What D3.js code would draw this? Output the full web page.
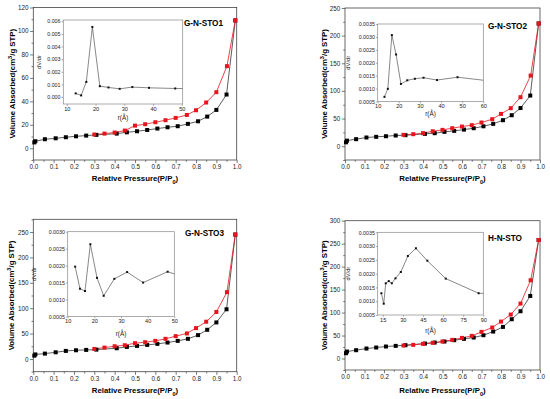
<!DOCTYPE html>
<html>
<head>
<meta charset="utf-8">
<script src="https://cdn.jsdelivr.net/npm/d3@7"></script>
<style>
  body { margin: 0; background: #fff; }
  svg { font-family: "Liberation Sans", Arial, sans-serif; }
  .frame { fill: none; stroke: #444; stroke-width: 0.8; }
  .inframe { fill: none; stroke: #888; stroke-width: 0.7; }
  .axis path { display: none; }
  .axis line { stroke: #444; stroke-width: 0.7; }
  .axis text { fill: #222; }
</style>
</head>
<body>
<div id="chart_area"></div>
<script>
// relative pressure (P/P0) of the adsorption and desorption branches
var pressureAds = [0.005, 0.01, 0.057, 0.11, 0.16, 0.21, 0.26, 0.31, 0.41, 0.46, 0.51, 0.56, 0.61, 0.66, 0.71, 0.76, 0.81, 0.855, 0.90, 0.95, 0.993];
var pressureDes = [0.30, 0.35, 0.40, 0.45, 0.50, 0.55, 0.60, 0.65, 0.70, 0.755, 0.80, 0.85, 0.90, 0.952, 0.993];

var sampleNames = ["G-N-STO1", "G-N-STO2", "G-N-STO3", "H-N-STO"];

// volume adsorbed, cm3/g STP
var ads1 = [5, 6, 7.7, 8.5, 9.4, 10.2, 10.8, 11.4, 12.5, 13.6, 14.5, 15.6, 16.8, 17.9, 18.8, 20.8, 23, 27, 32.7, 45.8, 109];
var des1 = [11.7, 12.5, 13.4, 15.1, 19.3, 20.5, 22.2, 23.9, 25.9, 28.4, 32.4, 39, 47.8, 70, 109];
var ads2 = [7, 10, 12.7, 15.7, 16.9, 18, 19.3, 19.9, 22.3, 23.5, 25.9, 27.7, 30, 32.5, 36, 40.4, 47, 56, 69, 91.6, 222];
var des2 = [20.5, 21.7, 23.5, 27, 29.5, 32.5, 35.5, 38, 42.8, 48.8, 58.4, 68.7, 88.6, 127.7, 222];
var ads3 = [6.6, 9, 10.6, 13.2, 15.9, 17.2, 17.9, 18.5, 21.2, 23.8, 25.8, 27.8, 29.8, 32.4, 35.7, 39.7, 47, 57.5, 72, 97.9, 245];
var des3 = [19.8, 22.5, 25.1, 27.1, 31.1, 33, 35.7, 39.7, 45, 50.3, 60.8, 73.4, 92.6, 131.6, 245];
var ads4 = [11.6, 15.2, 18.1, 21.7, 23.9, 26.1, 27.5, 29, 32.6, 34.8, 37, 39.9, 42.8, 45.7, 50.7, 58.7, 68.8, 85.5, 102.9, 136.2, 258];
var des4 = [28.3, 29.7, 31.9, 34.1, 37, 40.6, 44.9, 49.3, 58, 67.4, 80.4, 95.7, 119.6, 170.3, 258];

// pore size distribution insets: r (Å) and dV/dr
var poreR1 = [13.1, 15.0, 16.8, 18.9, 21.5, 24.5, 28.4, 32.8, 38.6, 47.7, 60];
var dvdr1 = [0.00029, 0.00013, 0.0012, 0.00555, 0.00086, 0.00076, 0.00065, 0.00079, 0.00073, 0.00068, 0.00066];
var poreR2 = [13.2, 14.8, 16.7, 18.7, 21.0, 24.0, 27.6, 31.7, 38.1, 47.8, 62.5];
var dvdr2 = [0.00068, 0.00099, 0.00307, 0.00232, 0.00118, 0.00132, 0.00138, 0.00142, 0.00133, 0.00144, 0.0013];
var poreR3 = [12.8, 14.6, 16.5, 18.5, 21, 23.5, 27.5, 32.3, 38.3, 47.5, 60];
var dvdr3 = [0.00197, 0.00132, 0.00125, 0.00263, 0.00164, 0.00111, 0.00161, 0.00181, 0.0015, 0.00182, 0.0015];
var poreR4 = [14, 15.75, 17.25, 19.5, 21.75, 24.5, 28.5, 33.75, 39.75, 48.25, 62, 86.5, 100];
var dvdr4 = [0.00129, 0.00091, 0.00165, 0.00173, 0.00165, 0.00183, 0.00206, 0.00264, 0.00292, 0.00247, 0.00182, 0.00129, 0.00126];

// tick values
var pressureTicks = d3.range(0, 1.0001, 0.1);
var yTicks1 = [0, 20, 40, 60, 80, 100, 120];
var yTicks2 = [0, 50, 100, 150, 200, 250];
var yTicks4 = [0, 50, 100, 150, 200, 250, 300];
var inTicksY1 = [0, 0.001, 0.002, 0.003, 0.004, 0.005, 0.006];
var inTicksY2 = [0.0005, 0.001, 0.0015, 0.002, 0.0025, 0.003, 0.0035];
var inTicksY3 = [0.0005, 0.001, 0.0015, 0.002, 0.0025, 0.003];
var inTicksX1 = [10, 20, 30, 40, 50];
var inTicksX2 = [10, 20, 30, 40, 50, 60];
var inTicksX4 = [15, 30, 45, 60, 75, 90];

var svg = d3.select("#chart_area").append("svg")
    .attr("width", 550).attr("height", 399);

var panels = [
    { name: sampleNames[0], ads: ads1, des: des1, yDom: [-10, 120], yTicks: yTicks1, yMinor: 10,
      box: [33.3, 236.7, 7.5, 160], ylabX: 15, xlabY: 181, title: [184, 26],
      inset: { r: poreR1, v: dvdr1, box: [63.3, 182.7, 20, 104], xDom: [8.8, 50.3], yDom: [-0.00055, 0.0061],
               xt: inTicksX1, yt: inTicksY1, fmt: ".3f", labX: 41, labY: 120 } },
    { name: sampleNames[1], ads: ads2, des: des2, yDom: [-25, 250], yTicks: yTicks2, yMinor: 25,
      box: [345, 540, 8, 160], ylabX: 327, xlabY: 181, title: [488, 29],
      inset: { r: poreR2, v: dvdr2, box: [377.7, 483.3, 24, 101.5], xDom: [10, 60], yDom: [0.0005, 0.0035],
               xt: inTicksX2, yt: inTicksY2, fmt: ".4f", labX: 350, labY: 116 } },
    { name: sampleNames[2], ads: ads3, des: des3, yDom: [-25, 275], yTicks: yTicks2, yMinor: 25,
      box: [33.3, 236.7, 219.3, 371.7], ylabX: 14, xlabY: 393, title: [185, 236],
      inset: { r: poreR3, v: dvdr3, box: [67.7, 174.3, 231.7, 316.5], xDom: [10, 50], yDom: [0.0005, 0.003],
               xt: inTicksX1, yt: inTicksY3, fmt: ".4f", labX: 36, labY: 336 } },
    { name: sampleNames[3], ads: ads4, des: des4, yDom: [-25, 300], yTicks: yTicks4, yMinor: 25,
      box: [345, 540, 220.7, 370], ylabX: 327, xlabY: 393, title: [488, 241],
      inset: { r: poreR4, v: dvdr4, box: [377.7, 483.3, 232.3, 315], xDom: [11.25, 90], yDom: [0.0005, 0.0035],
               xt: inTicksX4, yt: inTicksY2, fmt: ".4f", labX: 350, labY: 333 } }
];

function drawPanel(p, idx) {
    var g = svg.append("g");
    var x = d3.scaleLinear().domain([0, 1]).range([p.box[0], p.box[1]]);
    var y = d3.scaleLinear().domain(p.yDom).range([p.box[3], p.box[2]]);

    // minor ticks
    var xMinor = d3.range(0.05, 1, 0.1);
    var yMinor = d3.range(p.yDom[0] < 0 ? -p.yMinor : 0, p.yDom[1] + 0.001, p.yMinor).filter(function (v) {
        return p.yTicks.indexOf(v) < 0 && v >= p.yDom[0];
    });
    g.append("g").attr("class", "axis").attr("transform", "translate(0," + p.box[3] + ")")
        .call(d3.axisBottom(x).tickValues(xMinor).tickSize(1.8).tickFormat(""));
    g.append("g").attr("class", "axis").attr("transform", "translate(" + p.box[0] + ",0)")
        .call(d3.axisLeft(y).tickValues(yMinor).tickSize(1.8).tickFormat(""));

    var xa = g.append("g").attr("class", "axis").attr("transform", "translate(0," + p.box[3] + ")")
        .call(d3.axisBottom(x).tickValues(pressureTicks).tickSize(3.2).tickPadding(1.5).tickFormat(d3.format(".1f")));
    xa.selectAll("text").style("font-size", "6.3px");
    var ya = g.append("g").attr("class", "axis").attr("transform", "translate(" + p.box[0] + ",0)")
        .call(d3.axisLeft(y).tickValues(p.yTicks).tickSize(3.2).tickPadding(1.5));
    ya.selectAll("text").style("font-size", "6.3px");

    g.append("rect").attr("class", "frame")
        .attr("x", p.box[0]).attr("y", p.box[2])
        .attr("width", p.box[1] - p.box[0]).attr("height", p.box[3] - p.box[2]);

    // axis labels
    var xl = g.append("text").attr("x", (p.box[0] + p.box[1]) / 2).attr("y", p.xlabY)
        .attr("text-anchor", "middle").style("font-size", "7.8px").style("font-weight", "bold");
    xl.append("tspan").text("Relative Pressure(P/P");
    xl.append("tspan").attr("baseline-shift", "sub").style("font-size", "5.6px").text("0");
    xl.append("tspan").text(")");

    var yl = g.append("text")
        .attr("transform", "translate(" + p.ylabX + "," + ((p.box[2] + p.box[3]) / 2) + ") rotate(-90)")
        .attr("text-anchor", "middle").style("font-size", "7.8px").style("font-weight", "bold");
    yl.append("tspan").text("Volume Absorbed(cm");
    yl.append("tspan").attr("baseline-shift", "super").style("font-size", "5.6px").text("3");
    yl.append("tspan").text("/g STP)");

    g.append("text").attr("x", p.title[0]).attr("y", p.title[1])
        .style("font-size", "8.2px").style("font-weight", "bold").text(p.name);

    // isotherm branches
    var line = d3.line().x(function (d) { return x(d[0]); }).y(function (d) { return y(d[1]); });
    var adsPts = pressureAds.map(function (v, i) { return [v, p.ads[i]]; });
    var desPts = pressureDes.map(function (v, i) { return [v, p.des[i]]; });

    g.append("path").datum(adsPts).attr("d", line)
        .attr("fill", "none").attr("stroke", "#333").attr("stroke-width", 0.8);
    g.append("path").datum(desPts).attr("d", line)
        .attr("fill", "none").attr("stroke", "#e8141e").attr("stroke-width", 0.8);

    g.selectAll(".ads").data(adsPts).enter().append("rect")
        .attr("x", function (d) { return x(d[0]) - 2; })
        .attr("y", function (d) { return y(d[1]) - 2; })
        .attr("width", 4).attr("height", 4).attr("fill", "#000");
    g.selectAll(".des").data(desPts).enter().append("rect")
        .attr("x", function (d) { return x(d[0]) - 2; })
        .attr("y", function (d) { return y(d[1]) - 2; })
        .attr("width", 4).attr("height", 4).attr("fill", "#e8141e");

    drawInset(p.inset, idx);
}

function drawInset(s, idx) {
    var g = svg.append("g");
    var x = d3.scaleLinear().domain(s.xDom).range([s.box[0], s.box[1]]);
    var y = d3.scaleLinear().domain(s.yDom).range([s.box[3], s.box[2]]);

    var xa = g.append("g").attr("class", "axis").attr("transform", "translate(0," + s.box[3] + ")")
        .call(d3.axisBottom(x).tickValues(s.xt).tickSize(1.8).tickPadding(1));
    xa.selectAll("text").style("font-size", "5.6px");
    var ya = g.append("g").attr("class", "axis").attr("transform", "translate(" + s.box[0] + ",0)")
        .call(d3.axisLeft(y).tickValues(s.yt).tickSize(1.8).tickPadding(1).tickFormat(d3.format(s.fmt)));
    ya.selectAll("text").style("font-size", "5.3px");
    g.selectAll(".axis line").style("stroke", "#888");

    g.append("rect").attr("class", "inframe")
        .attr("x", s.box[0]).attr("y", s.box[2])
        .attr("width", s.box[1] - s.box[0]).attr("height", s.box[3] - s.box[2]);

    g.append("text")
        .attr("transform", "translate(" + s.labX + "," + ((s.box[2] + s.box[3]) / 2) + ") rotate(-90)")
        .attr("text-anchor", "middle").style("font-size", "5.8px").attr("fill", "#222").text("dV/dr");
    g.append("text").attr("x", (s.box[0] + s.box[1]) / 2).attr("y", s.labY)
        .attr("text-anchor", "middle").style("font-size", "6.3px").attr("fill", "#222").text("r(Å)");

    var clipId = "clip" + idx;
    svg.append("clipPath").attr("id", clipId).append("rect")
        .attr("x", s.box[0]).attr("y", s.box[2])
        .attr("width", s.box[1] - s.box[0]).attr("height", s.box[3] - s.box[2]);

    var pts = s.r.map(function (r, i) { return [r, s.v[i]]; });
    var line = d3.line().x(function (d) { return x(d[0]); }).y(function (d) { return y(d[1]); });
    var inner = g.append("g").attr("clip-path", "url(#" + clipId + ")");
    inner.append("path").datum(pts).attr("d", line)
        .attr("fill", "none").attr("stroke", "#555").attr("stroke-width", 0.7);
    inner.selectAll("rect").data(pts).enter().append("rect")
        .attr("x", function (d) { return x(d[0]) - 1; })
        .attr("y", function (d) { return y(d[1]) - 1; })
        .attr("width", 2).attr("height", 2).attr("fill", "#111");
}

panels.forEach(drawPanel);
</script>
</body>
</html>
